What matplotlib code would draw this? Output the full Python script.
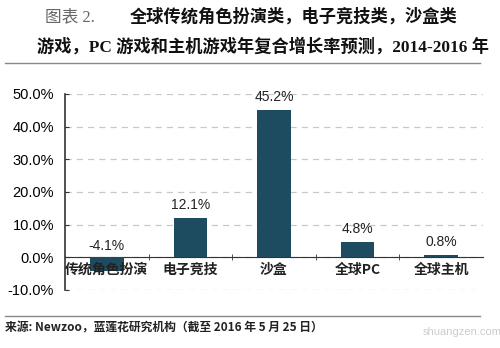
import matplotlib
matplotlib.use("Agg")
import matplotlib.pyplot as plt
from matplotlib.lines import Line2D

plt.rcParams['font.family'] = ['Noto Sans CJK SC', 'DejaVu Sans']

# 数据
categories = ["传统角色扮演", "电子竞技", "沙盒", "全球PC", "全球主机"]
cagr = [-4.1, 12.1, 45.2, 4.8, 0.8]
yticks = [-10, 0, 10, 20, 30, 40, 50]

bar_color = "#1d4b60"
serif_cjk = ["Liberation Serif", "Noto Sans CJK SC"]

fig = plt.figure(figsize=(5, 3.48), dpi=100)
ax = fig.add_axes([0.13, 0.1667, 0.836, 0.5633])

x = list(range(len(categories)))
ax.bar(x, cagr, width=0.4, color=bar_color, zorder=3)

for xi, v in zip(x, cagr):
    ax.annotate(f"{v:.1f}%", (xi, max(v, 0)), xytext=(0, 4 if v > 0 else 3),
                textcoords="offset points", ha="center", va="bottom",
                fontsize=10, family="Liberation Sans", color="#222222")

ax.set_ylim(-10, 50)
ax.set_xlim(-0.5, len(categories) - 0.5)
ax.set_yticks(yticks)
ax.set_yticklabels([f"{t:.1f}%" for t in yticks], family="Liberation Sans", fontsize=10.5)
ax.yaxis.grid(True, linestyle=(0, (5, 4)), color="#c8c8c8", linewidth=0.9, zorder=0)
ax.tick_params(axis="y", length=3, direction="in", pad=8, color="#333333")

# 类别标签画在柱子上面
ax.set_xticks(x)
ax.set_xticklabels([])
for xi, c in zip(x, categories):
    ax.annotate(c, (xi, 0), xytext=(0, -4), textcoords="offset points",
                ha="center", va="top", fontsize=10, fontweight="bold",
                color="#222222", zorder=5)
ax.set_xticks([i + 0.5 for i in x[:-1]], minor=True)
ax.tick_params(axis="x", which="major", length=0, pad=1)
ax.tick_params(axis="x", which="minor", length=4, direction="inout", color="#333333")

for s in ["top", "right"]:
    ax.spines[s].set_visible(False)
ax.spines["bottom"].set_position(("data", 0))
ax.spines["left"].set_color("#333333")
ax.spines["bottom"].set_color("#333333")
ax.spines["left"].set_linewidth(1.2)

# 标题
fig.text(0.09, 0.951, "图表 2.", fontsize=12, family=serif_cjk,
         color="#666666", va="center")
fig.text(0.26, 0.951, "全球传统角色扮演类，电子竞技类，沙盒类", fontsize=12.4,
         fontweight="bold", va="center", color="#111111")
fig.text(0.074, 0.865, "游戏，PC 游戏和主机游戏年复合增长率预测，2014-2016 年", fontsize=12.4,
         fontweight="bold", va="center", color="#111111", family=serif_cjk)

# 分隔线
fig.add_artist(Line2D([0.01, 0.96], [0.819, 0.819], color="#888888", linewidth=1))
fig.add_artist(Line2D([0.01, 0.96], [0.092, 0.092], color="#888888", linewidth=1))

fig.text(0.01, 0.057, "来源: Newzoo，蓝莲花研究机构（截至 2016 年 5 月 25 日）",
         fontsize=8.5, fontweight="bold", va="center", color="#222222")
fig.text(0.845, 0.045, "shuangzen.com", fontsize=8, color="#cccccc", va="center",
         family="Liberation Sans")

fig.savefig("out.png", dpi=100)
